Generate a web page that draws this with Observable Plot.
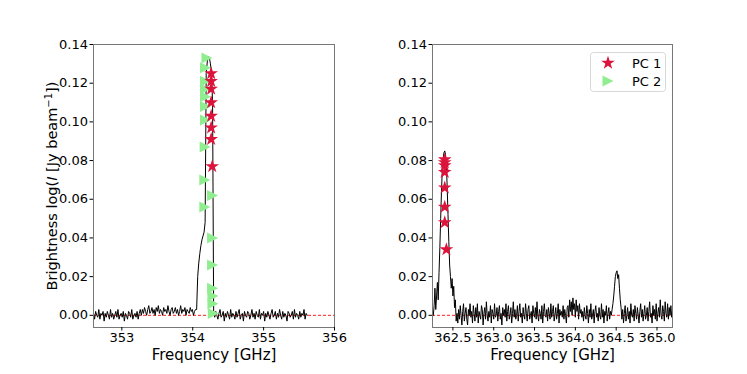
<!DOCTYPE html>
<html><head><meta charset="utf-8">
<script src="https://cdn.jsdelivr.net/npm/d3@7"></script>
<script src="https://cdn.jsdelivr.net/npm/@observablehq/plot@0.6"></script>
<style>
body{margin:0;background:#fff;}
#fig{position:relative;width:747px;height:374px;font-family:"DejaVu Sans",sans-serif;background:#fff;}
#fig > svg{position:absolute;top:0;}
</style></head><body><div id="fig"></div>
<script>
// ---- data (brightness in units of 1e-3) ----
const leftStart = 352.60, leftStep = 0.015;
const leftBrightness = [
 1,-2,2,0,-1,3,-2,1,0,2, -3,1,-1,2,0,-2,3,-1,1,-2, 0,2,-1,3,-2,0,1,-1,2,-3, 1,0,-2,2,1,-1,3,-2,0,1, -1,2,-2,1,3,0,
 3,1,4,2,0,3,5,1,2,4, 1,3,0,4,2,5,1,3,2,0, 4,2,3,1,5,2,0,3,4,1, 2,4,1,3,0,2,5,1,3,2, 4,0,3,2,1,4,2,3,0,2, 3,3,
 20,27,32,36,39,41,43,48,125,131,134,133,130,125,110,2,
 -1,2,0,-2,1,3,-1,0,2,-3, 1,-1,2,0,-2,3,-1,1,0,-2, 2,-1,1,3,-2,0,1,-3,2,0, -1,2,1,-2,0,3,-1,1,-2,2,
 0,-1,3,-2,1,0,2,-3,1,-1, 2,0,-2,1,3,-1,0,2,-2,1, -1,3,0,-2,2,-1,1,0,-3,2, 1,-1,0,2,-2,3,-1,1,0,-2, 2,-1,1,0,3,-2,1,0
];
const rightStart = 362.26, rightStep = 0.01;
const rightBrightness = [
 0,5,14,3,10,17,8,22,35,50, 64,75,81,84,85,83,78,66,52,38, 26,20,14,19,10,15,4,8,-3,1,
 -4,3,-2,5,0,-5,2,6,-3,1, 4,-2,-5,3,0,6,-1,2,-4,5, 1,-3,4,-1,6,-4,2,0,-2,5, 3,-5,1,4,-2,7,0,-3,2,-1,
 5,-4,3,1,-2,6,-1,0,4,-3, 2,5,-2,1,-5,4,0,3,-1,6, -3,2,5,-2,0,4,-4,1,7,-1, 3,-2,0,5,-3,2,6,-1,1,-4,
 4,0,-2,6,1,-3,3,5,-2,0, 2,-4,5,1,-1,4,-2,7,0,-3, 3,1,-2,5,-4,2,6,0,-1,3, -3,4,1,-2,6,-1,2,5,-3,0,
 4,-2,1,6,-4,3,0,2,-1,5, -2,3,0,-4,4,
 5,-1,8,2,7,0,9,3,6,-1,8,2,5,-2,6,1,3,-1,
 2,-3,4,0,-2,5,1,-4,3,-1, 6,-2,0,3,-4,2,5,-1,1,-3, 4,0,-2,6,-1,3,-4,2,0,5, -3,1,4,-2,2,0,3,
 6,10,15,20,22,23,19,21,14,8,4,
 -2,3,-4,1,5,-3,0,4,-2,2, -4,6,0,-1,3,-3,5,1,-2,4, 0,-4,2,6,-1,3,-3,1,5,-2, 0,4,-3,2,7,-1,1,-4,5,0,
 3,-2,6,-3,1,4,-1,8,0,-2, 5,2,-3,7,1,-1,6,-2,4,0, 5,-1,3
];
const leftPC1Freq = [354.26,354.26,354.26,354.26,354.26,354.26,354.26,354.275];
const leftPC1Val  = [0.125,0.121,0.117,0.110,0.103,0.097,0.091,0.077];
const leftPC2Freq = [354.20,354.18,354.18,354.18,354.18,354.18,354.18,354.175,354.17,354.17,354.28,354.28,354.28,354.28,354.285,354.285,354.29];
const leftPC2Val  = [0.133,0.128,0.121,0.117,0.113,0.108,0.101,0.087,0.070,0.056,0.062,0.040,0.026,0.014,0.010,0.006,0.001];
const rightPC1Freq = [362.40,362.40,362.40,362.40,362.40,362.40,362.40,362.42];
const rightPC1Val  = [0.0805,0.079,0.0775,0.074,0.066,0.056,0.048,0.034];
const yTicks = [0,0.02,0.04,0.06,0.08,0.10,0.12,0.14];
const leftXTicks = [353,354,355,356];
const rightXTicks = [362.5,363.0,363.5,364.0,364.5,365.0];
const seriesNames = ["PC 1","PC 2"];
const seriesColors = ["#dc143c","#90ee90"];

// ---- build tables ----
const leftSpec = leftBrightness.map((v,i)=>({f:leftStart+i*leftStep, v:v/1000}));
const rightSpec = rightBrightness.map((v,i)=>({f:rightStart+i*rightStep, v:v/1000}));
const lp1 = leftPC1Freq.map((f,i)=>({f, v:leftPC1Val[i]}));
const lp2 = leftPC2Freq.map((f,i)=>({f, v:leftPC2Val[i]}));
const rp1 = rightPC1Freq.map((f,i)=>({f, v:rightPC1Val[i]}));

const R = 7.2, S = 5.5;
const starSym = {draw(ctx){ const r=R*0.381966; for(let k=0;k<10;k++){const rad=k%2?r:R; const a=-Math.PI/2+k*Math.PI/5; const x=rad*Math.cos(a), y=rad*Math.sin(a); if(k) ctx.lineTo(x,y); else ctx.moveTo(x,y);} ctx.closePath(); }};
const triSym = {draw(ctx){ ctx.moveTo(S,0); ctx.lineTo(-S,-S); ctx.lineTo(-S,S); ctx.closePath(); }};

const common = {
  height:374, marginTop:44, marginBottom:47,
  style:{fontFamily:"DejaVu Sans", fontSize:"13px", color:"black", background:"transparent", overflow:"visible"},
  y:{domain:[-0.0063,0.14]}
};
const yAxis = (label)=>Plot.axisY({ticks:yTicks, tickFormat:".2f", tickSize:3.5, tickPadding:2, label, labelAnchor:"center", labelArrow:"none", labelOffset:47});
const xAxis = (ticks,fmt)=>Plot.axisX({ticks, tickFormat:fmt, tickSize:3.5, tickPadding:1.5, label:"Frequency [GHz]", labelAnchor:"center", labelArrow:"none", labelOffset:32});

const left = Plot.plot({
  ...common, width:380, marginLeft:93, marginRight:46,
  x:{domain:[352.6,356]},
  marks:[
    Plot.ruleY([0],{stroke:"red",strokeDasharray:"3,2",strokeWidth:0.9}),
    Plot.line(leftSpec,{x:"f",y:"v",stroke:"black",strokeWidth:1}),
    Plot.dot(lp2,{x:"f",y:"v",symbol:triSym,fill:seriesColors[1],stroke:"none"}),
    Plot.dot(lp1,{x:"f",y:"v",symbol:starSym,fill:seriesColors[0],stroke:"none"}),
    Plot.frame({stroke:"#777"}),
    xAxis(leftXTicks,"d"),
    yAxis("Brightness log(I [Jy beam−1])")
  ]
});
const right = Plot.plot({
  ...common, width:367, marginLeft:52, marginRight:75,
  x:{domain:[362.25,365.19]},
  marks:[
    Plot.ruleY([0],{stroke:"red",strokeDasharray:"3,2",strokeWidth:0.9}),
    Plot.line(rightSpec,{x:"f",y:"v",stroke:"black",strokeWidth:1}),
    Plot.dot(rp1,{x:"f",y:"v",symbol:starSym,fill:seriesColors[0],stroke:"none"}),
    Plot.frame({stroke:"#777"}),
    xAxis(rightXTicks,".1f"),
    yAxis(null)
  ]
});
left.style.left="0px"; right.style.left="380px";
const fig=document.getElementById("fig");
fig.appendChild(left); fig.appendChild(right);

// larger axis-label font
for (const svg of [left,right]) {
  for (const g of svg.querySelectorAll('[aria-label="x-axis label"]')) g.style.fontSize="15px";
  for (const g of svg.querySelectorAll('[aria-label="y-axis label"]')) g.style.fontSize="14.5px";
}
// rich y label: italic I and superscript -1
const lab = left.querySelector('[aria-label="y-axis label"] text');
if(lab){
  lab.textContent="";
  const ns="http://www.w3.org/2000/svg";
  const parts=[["Brightness log(",{}],["I",{"font-style":"italic"}],[" [Jy beam",{}],["−1",{"baseline-shift":"super","font-size":"10px"}],["])",{}]];
  for(const [t,a] of parts){const ts=document.createElementNS(ns,"tspan"); ts.textContent=t; for(const k in a) ts.setAttribute(k,a[k]); lab.appendChild(ts);}
}

// legend (layout overlay)
const lg=d3.create("svg").attr("width",747).attr("height",374).style("left","0px").style("pointer-events","none")
  .attr("font-family","DejaVu Sans").attr("font-size",13);
lg.append("rect").attr("x",590.5).attr("y",52.5).attr("width",75).attr("height",39).attr("rx",3)
  .attr("fill","white").attr("fill-opacity",0.8).attr("stroke","#d8d8d8");
const starPath=d3.path(); starSym.draw(starPath);
const triPath=d3.path(); triSym.draw(triPath);
seriesNames.forEach((n,i)=>{
  const y=63+i*18;
  lg.append("path").attr("d",(i?triPath:starPath).toString()).attr("transform",`translate(608,${y})`).attr("fill",seriesColors[i]);
  lg.append("text").attr("x",632).attr("y",y).attr("dy","0.35em").text(n);
});
fig.appendChild(lg.node());
</script></body></html>
